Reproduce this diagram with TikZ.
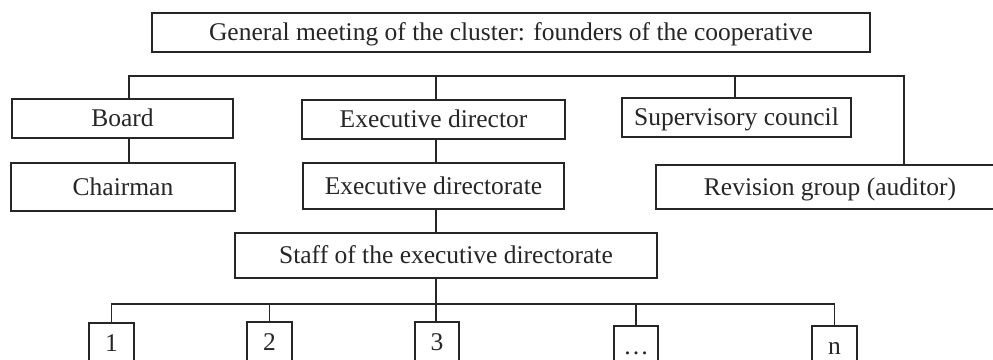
\documentclass[tikz,border=0pt]{standalone}
\usepackage{fontspec}
\setmainfont{Liberation Serif}
\begin{document}
\begin{tikzpicture}[x=1pt,y=-1pt,
  ln/.style={draw=black!85, line width=1.1pt},
  bx/.style={draw=black!85, line width=1.1pt, inner sep=0pt, anchor=center,
    font=\fontsize{25.5}{28}\selectfont, text=black!85, text height=17pt, text depth=0.5pt},
]
\path[clip, use as bounding box] (0,0) rectangle (993,359);
\fill[white] (0,0) rectangle (993,359);
% boxes
\node[bx, minimum width=718pt, minimum height=39pt] (top) at (511,32.5) {General meeting of the cluster: founders of the cooperative};
\node[bx, minimum width=221pt, minimum height=39pt] (board) at (122.5,118.5) {Board};
\node[bx, minimum width=263pt, minimum height=39pt] (edir) at (433.5,119.5) {Executive director};
\node[bx, minimum width=229pt, minimum height=39pt] (sup) at (736.5,117.5) {Supervisory council};
\node[bx, minimum width=224pt, minimum height=48pt] (chair) at (123,187) {Chairman};
\node[bx, minimum width=261pt, minimum height=46pt] (edirate) at (433.5,186) {Executive directorate};
\node[bx, minimum width=348pt, minimum height=44pt] (rev) at (830,187) {Revision group (auditor)};
\node[bx, minimum width=422pt, minimum height=45pt] (staff) at (446,255.5) {Staff of the executive directorate};
\node[bx, minimum width=45pt, minimum height=40pt] (b1) at (111.5,343) {1};
\node[bx, minimum width=45pt, minimum height=40pt] (b2) at (269.5,342) {2};
\node[bx, minimum width=44pt, minimum height=40pt] (b3) at (437,342) {3};
\node[bx, minimum width=44pt, minimum height=40pt] (bd) at (636,346) {\dots};
\node[bx, minimum width=45pt, minimum height=40pt] (bn) at (834.5,346) {n};
% upper bus
\coordinate (ub) at (0,76);
\coordinate (xl) at (129,0);
\coordinate (xc) at (436,0);
\coordinate (xs) at (735,0);
\coordinate (xr) at (904,0);
\draw[ln] (xl |- board.north) -- (xl |- ub) -- (xr |- ub) -- (xr |- rev.north);
\draw[ln] (xc |- ub) -- (xc |- edir.north);
\draw[ln] (xs |- ub) -- (xs |- sup.north);
\draw[ln] (xl |- board.south) -- (xl |- chair.north);
\draw[ln] (xc |- edir.south) -- (xc |- edirate.north);
\draw[ln] (xc |- edirate.south) -- (xc |- staff.north);
% lower bus
\coordinate (lb) at (0,304);
\draw[ln] (xc |- staff.south) -- (xc |- lb);
\draw[ln] (b1.north) -- (b1.north |- lb) -- (bn.north |- lb) -- (bn.north);
\draw[ln] (b2.north) -- (b2.north |- lb);
\draw[ln] (xc |- b3.north) -- (xc |- lb);
\draw[ln] (bd.north) -- (bd.north |- lb);
\end{tikzpicture}
\end{document}
